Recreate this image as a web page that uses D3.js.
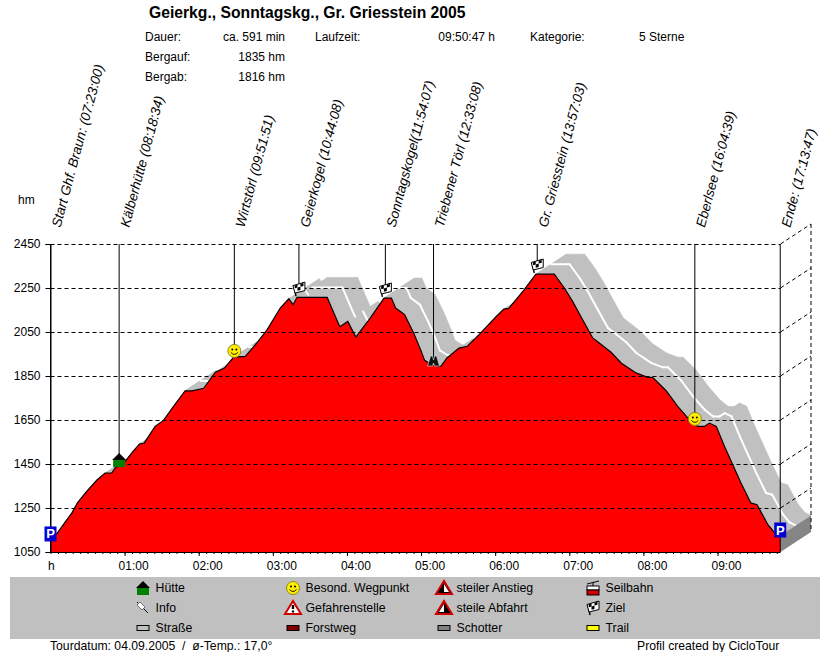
<!DOCTYPE html>
<html>
<head>
<meta charset="utf-8">
<script src="https://d3js.org/d3.v7.min.js"></script>
<style>
  body { margin: 0; background: #fff; }
  text { font-family: "Liberation Sans", Arial, sans-serif; fill: #000; }
</style>
</head>
<body>
<script>
// Höhenprofil: Zeit in Minuten, Höhe in hm
var profileMin = [0, 5, 10.4, 17.2, 21.8, 29.3, 37.4, 44.2, 49.6, 52.3, 59.6, 65.8, 72, 75.8, 84.7, 91.5, 99.6, 109, 114.6, 124, 133.5, 140.8, 148.3, 157.7, 167, 175.3, 186,
  192.9, 196.4, 199.6, 224, 229.4, 234.2, 240.7, 247.2, 259, 270, 276, 279.4, 286.7, 294, 299.6, 302.9, 309, 316, 321, 330.7, 337.5, 347, 360.5, 367, 371, 383.4, 393,
  407.8, 416, 422.7, 430.8, 439, 444.3, 453.8, 462, 474, 483.5, 487.5, 498.4, 507.8, 517.3, 524, 529.4, 533.5, 539, 545.7, 559, 567, 572, 580.8, 586, 591];
var profileHm = [1106, 1133, 1174, 1227, 1273, 1326, 1376, 1409, 1409, 1432, 1455, 1500, 1541, 1545, 1621, 1648, 1712, 1783, 1782, 1794, 1867, 1886, 1936, 1939, 2000, 2060, 2159,
  2201, 2174, 2207, 2207, 2136, 2074, 2098, 2027, 2114, 2204, 2204, 2159, 2129, 2045, 1970, 1921, 1900, 1894, 1932, 1977, 1985, 2038, 2118, 2154, 2157, 2242, 2313,
  2313, 2250, 2189, 2106, 2023, 2000, 1958, 1909, 1864, 1844, 1844, 1783, 1712, 1651, 1621, 1621, 1636, 1621, 1530, 1364, 1273, 1265, 1174, 1139, 1125];

// Wegpunkte
var wayNames = ['Start Ghf. Braun: (07:23:00)', 'Kälberhütte (08:18:34)', 'Wirtstörl (09:51:51)', 'Geierkogel (10:44:08)', 'Sonntagskogel(11:54:07)', 'Triebener Törl (12:33:08)', 'Gr. Griesstein (13:57:03)', 'Eberlsee (16:04:39)', 'Ende: (17:13:47)'];
var wayMin = [0, 55.57, 148.85, 201.13, 271.1, 310.1, 394.05, 521.65, 590.78];
var wayHm = [1132, 1468, 1964, 2245, 2241, 1918, 2350, 1655, 1150];
var wayIcons = ['park', 'huette', 'smile', 'ziel', 'ziel', 'fern', 'ziel', 'smile', 'park'];

var hmTicks = [1050, 1250, 1450, 1650, 1850, 2050, 2250, 2450];
var hourTicks = [60, 120, 180, 240, 300, 360, 420, 480, 540];
var minorTicks = d3.range(0, 591, 6);

var infoLabels = ['Dauer:', 'Bergauf:', 'Bergab:'];
var infoValues = ['ca. 591 min', '1835 hm', '1816 hm'];

var legendNames = ['Hütte', 'Info', 'Straße', 'Besond. Wegpunkt', 'Gefahrenstelle', 'Forstweg', 'steiler Anstieg', 'steile Abfahrt', 'Schotter', 'Seilbahn', 'Ziel', 'Trail'];
var legendIcons = ['huette', 'info', 'strasse', 'smile', 'gefahr', 'forst', 'anstieg', 'abfahrt', 'schotter', 'seilbahn', 'ziel', 'trail'];

var WIDTH = 830;
var HEIGHT = 652;
var DEPTH_X = 30.5;
var DEPTH_Y = -20;

var svg = d3.select('body').append('svg')
            .attr('width', WIDTH)
            .attr('height', HEIGHT)
            .style('display', 'block');

var x = d3.scaleLinear().domain([0, 591]).range([50.5, 780.5]);
var y = d3.scaleLinear().domain([1050, 2450]).range([552, 244]);

var profile = profileMin.map(function(d, i) { return { x: x(d), y: y(profileHm[i]) }; });

// Fahrbahn-Band hinter dem Profil
var ribbon = svg.append('g');
d3.pairs(profile).forEach(function(p) {
  ribbon.append('polygon')
    .attr('points', [
      [p[0].x, p[0].y], [p[1].x, p[1].y],
      [p[1].x + DEPTH_X, p[1].y + DEPTH_Y], [p[0].x + DEPTH_X, p[0].y + DEPTH_Y]
    ].join(' '))
    .attr('fill', '#c0c0c0')
    .attr('stroke', '#c0c0c0')
    .attr('stroke-width', 0.6);
});

// weisse Mittellinie, nur wo die Fläche nach vorn zeigt
d3.pairs(profile).forEach(function(p) {
  var slope = (p[1].y - p[0].y) / (p[1].x - p[0].x);
  if (slope < DEPTH_Y / DEPTH_X) return;
  ribbon.append('line')
    .attr('x1', p[0].x + DEPTH_X / 2).attr('y1', p[0].y + DEPTH_Y / 2)
    .attr('x2', p[1].x + DEPTH_X / 2).attr('y2', p[1].y + DEPTH_Y / 2)
    .attr('stroke', '#fff')
    .attr('stroke-width', 2)
    .attr('stroke-linecap', 'round');
});

// Seitenfläche rechts
var last = profile[profile.length - 1];
svg.append('polygon')
   .attr('points', [
     [x(591), y(1050)], [x(591) + DEPTH_X, y(1050) + DEPTH_Y],
     [x(591) + DEPTH_X, last.y + DEPTH_Y], [x(591), last.y]
   ].join(' '))
   .attr('fill', '#858585');

// rote Profilfläche
var area = d3.area()
             .x(function(d) { return x(d[0]); })
             .y0(y(1050))
             .y1(function(d) { return y(d[1]); });
var line = d3.line()
             .x(function(d) { return x(d[0]); })
             .y(function(d) { return y(d[1]); });
var pts = profileMin.map(function(d, i) { return [d, profileHm[i]]; });

svg.append('path').attr('d', area(pts)).attr('fill', '#ff0000');
svg.append('path').attr('d', line(pts)).attr('fill', 'none').attr('stroke', '#000').attr('stroke-width', 1.2);

// Gitter, vorn und an der Rückwand
var grid = svg.append('g').attr('stroke', '#000').attr('stroke-width', 1).attr('stroke-dasharray', '4,3').attr('fill', 'none');
hmTicks.slice(1).forEach(function(h) {
  grid.append('line').attr('x1', x(0)).attr('x2', x(591)).attr('y1', y(h) + 0.5).attr('y2', y(h) + 0.5);
});
hmTicks.slice(1).forEach(function(h) {
  grid.append('line').attr('x1', x(591)).attr('x2', x(591) + DEPTH_X).attr('y1', y(h)).attr('y2', y(h) + DEPTH_Y);
});
grid.append('line').attr('x1', x(591) + DEPTH_X).attr('x2', x(591) + DEPTH_X).attr('y1', y(2450) + DEPTH_Y).attr('y2', y(1050) + DEPTH_Y);

// Achsen
var yAxis = d3.axisLeft(y).tickValues(hmTicks).tickSize(5).tickPadding(5).tickFormat(d3.format('d'));
var gy = svg.append('g').attr('transform', 'translate(' + x(0) + ',0)').call(yAxis);
gy.select('.domain').attr('stroke', '#000');
gy.selectAll('text').style('font-size', '12px').style('font-family', '"Liberation Sans", Arial, sans-serif').attr('dy', '0.32em');

var gMinor = svg.append('g').attr('transform', 'translate(0,552)')
  .call(d3.axisBottom(x).tickValues(minorTicks).tickSize(2).tickFormat(''));
gMinor.select('.domain').remove();

var xAxis = d3.axisBottom(x).tickValues(hourTicks).tickSize(4).tickPadding(5)
  .tickFormat(function(d) { return d3.format('02')(d / 60) + ':00'; });
var gx = svg.append('g').attr('transform', 'translate(0,552)').call(xAxis);
gx.select('.domain').attr('d', 'M' + x(0) + ',0.5H' + x(591));
gx.selectAll('text').attr('dx', 8.5).style('font-size', '12px').style('font-family', '"Liberation Sans", Arial, sans-serif');

svg.append('text').attr('x', 48).attr('y', 570).attr('font-size', 12).text('h');
svg.append('text').attr('x', 18).attr('y', 204).attr('font-size', 12).text('hm');

// Wegpunkte: Linien und schräge Beschriftung
var ways = svg.selectAll('g.way')
  .data(wayNames)
  .enter()
  .append('g')
  .attr('class', 'way');

ways.append('line')
  .attr('x1', function(d, i) { return x(wayMin[i]); })
  .attr('x2', function(d, i) { return x(wayMin[i]); })
  .attr('y1', y(2450))
  .attr('y2', function(d, i) { return (i === 0 || i === 8) ? y(1050) : y(wayHm[i]); })
  .attr('stroke', '#000');

ways.append('text')
  .attr('transform', function(d, i) { return 'translate(' + (x(wayMin[i]) + 10) + ',228) rotate(-75)'; })
  .attr('font-size', 13.6)
  .attr('font-style', 'italic')
  .text(function(d) { return d; });

// Symbole, Mittelpunkt liegt bei 0,0
function drawIcon(g, kind) {
  if (kind === 'park') {
    g.append('rect').attr('x', -6).attr('y', -7.5).attr('width', 12).attr('height', 15).attr('fill', '#0000d0');
    g.append('text').attr('x', 0).attr('y', 4.5).attr('text-anchor', 'middle').attr('font-size', 13).attr('font-weight', 'bold').style('fill', '#fff').text('P');
  } else if (kind === 'huette') {
    g.append('rect').attr('x', -6).attr('y', 0).attr('width', 12).attr('height', 7).attr('fill', '#008000');
    g.append('path').attr('d', 'M-7,0 L0,-7 L7,0 Z').attr('fill', '#000');
  } else if (kind === 'smile') {
    g.append('circle').attr('r', 6.5).attr('fill', '#ffee00').attr('stroke', '#8a8a20').attr('stroke-width', 1);
    g.append('circle').attr('cx', -2).attr('cy', -1.5).attr('r', 1).attr('fill', '#000');
    g.append('circle').attr('cx', 2).attr('cy', -1.5).attr('r', 1).attr('fill', '#000');
    g.append('path').attr('d', 'M-3.5,1.5 Q0,5.5 3.5,1.5').attr('fill', 'none').attr('stroke', '#000').attr('stroke-width', 0.9);
  } else if (kind === 'ziel') {
    g.append('path').attr('d', 'M-5,-3 L-3,7').attr('stroke', '#000').attr('stroke-width', 1.4);
    g.append('path').attr('d', 'M-6,-3.5 L6,-7 L6,1.5 L-4,4 Z').attr('fill', '#fff').attr('stroke', '#000');
    g.append('path').attr('d', 'M-4.5,-3.5 L-1.5,-4.4 L-1.5,-1.5 L-4,-0.8 Z M1.5,-5.3 L4.5,-6.2 L4.5,-3.2 L1.5,-2.4 Z M-1.5,-1.5 L1.5,-2.4 L1.5,0.9 L-1.5,1.7 Z').attr('fill', '#000');
  } else if (kind === 'fern') {
    g.append('path').attr('d', 'M-6,5 L-3,-5 L-1,-5 L0,-1 L1,-5 L3,-5 L6,5 L1,5 L0,2 L-1,5 Z').attr('fill', '#111').attr('stroke', '#e8e8e8').attr('stroke-width', 0.6);
  } else if (kind === 'info') {
    g.append('path').attr('d', 'M-6,-6 L5,5').attr('stroke', '#000').attr('stroke-width', 1);
    g.append('path').attr('d', 'M-6,-3 L-3,-6 L2,-1 L-1,2 Z').attr('fill', '#fff').attr('stroke', '#555').attr('stroke-width', 0.8);
  } else if (kind === 'gefahr' || kind === 'anstieg' || kind === 'abfahrt') {
    g.append('path').attr('d', 'M0,-7 L8,6 L-8,6 Z').attr('fill', kind === 'gefahr' ? '#fff' : '#000').attr('stroke', '#d00000').attr('stroke-width', 2);
    if (kind === 'gefahr') {
      g.append('path').attr('d', 'M0,-3 L0,1').attr('stroke', '#000').attr('stroke-width', 2.4);
      g.append('circle').attr('cy', 3.5).attr('r', 1.2).attr('fill', '#000');
    } else if (kind === 'anstieg') {
      g.append('path').attr('d', 'M0,-4 L5,4 L0,4 Z').attr('fill', '#fff');
    } else {
      g.append('path').attr('d', 'M0,-4 L-5,4 L0,4 Z').attr('fill', '#fff');
    }
  } else if (kind === 'seilbahn') {
    g.append('path').attr('d', 'M-6,-4 L6,-7 M0,-5.5 L0,-2').attr('stroke', '#000').attr('fill', 'none');
    g.append('rect').attr('x', -6).attr('y', -2).attr('width', 12).attr('height', 4).attr('fill', '#fff').attr('stroke', '#000');
    g.append('rect').attr('x', -6).attr('y', 2).attr('width', 12).attr('height', 5).attr('fill', '#d00000').attr('stroke', '#000');
  } else {
    var fills = { strasse: '#c0c0c0', forst: '#800000', schotter: '#808080', trail: '#ffff00' };
    g.append('rect').attr('x', -6).attr('y', -2.5).attr('width', 12).attr('height', 5).attr('fill', fills[kind]).attr('stroke', '#000');
  }
}

ways.append('g')
  .attr('transform', function(d, i) { return 'translate(' + x(wayMin[i]) + ',' + y(wayHm[i]) + ')'; })
  .each(function(d, i) { drawIcon(d3.select(this), wayIcons[i]); });

// Kopf
svg.append('text').attr('x', 149).attr('y', 18).attr('font-size', 15.7).attr('font-weight', 'bold').text('Geierkg., Sonntagskg., Gr. Griesstein 2005');
infoLabels.forEach(function(d, i) {
  svg.append('text').attr('x', 145).attr('y', 41 + i * 20).attr('font-size', 12).text(d);
  svg.append('text').attr('x', 285).attr('y', 41 + i * 20).attr('font-size', 12).attr('text-anchor', 'end').text(infoValues[i]);
});
svg.append('text').attr('x', 315).attr('y', 41).attr('font-size', 12).text('Laufzeit:');
svg.append('text').attr('x', 495).attr('y', 41).attr('font-size', 12).attr('text-anchor', 'end').text('09:50:47 h');
svg.append('text').attr('x', 530).attr('y', 41).attr('font-size', 12).text('Kategorie:');
svg.append('text').attr('x', 639).attr('y', 41).attr('font-size', 12).text('5 Sterne');

// Legende
svg.append('rect').attr('x', 10).attr('y', 577).attr('width', 810).attr('height', 62).attr('fill', '#c0c0c0');
var colX = [143, 293, 444, 593];
var legend = svg.selectAll('g.legend')
  .data(legendNames)
  .enter()
  .append('g')
  .attr('class', 'legend')
  .attr('transform', function(d, i) {
    return 'translate(' + colX[Math.floor(i / 3)] + ',' + (588 + (i % 3) * 20) + ')';
  });
legend.append('g').each(function(d, i) { drawIcon(d3.select(this), legendIcons[i]); });
legend.append('text').attr('x', 12.5).attr('y', 4).attr('font-size', 12.3).text(function(d) { return d; });

// Fuss
svg.append('text').attr('x', 50).attr('y', 650).attr('font-size', 12.2).text('Tourdatum: 04.09.2005  /  ø-Temp.: 17,0°').attr('xml:space', 'preserve');
svg.append('text').attr('x', 637).attr('y', 650).attr('font-size', 12.2).text('Profil created by CicloTour');
</script>
</body>
</html>
